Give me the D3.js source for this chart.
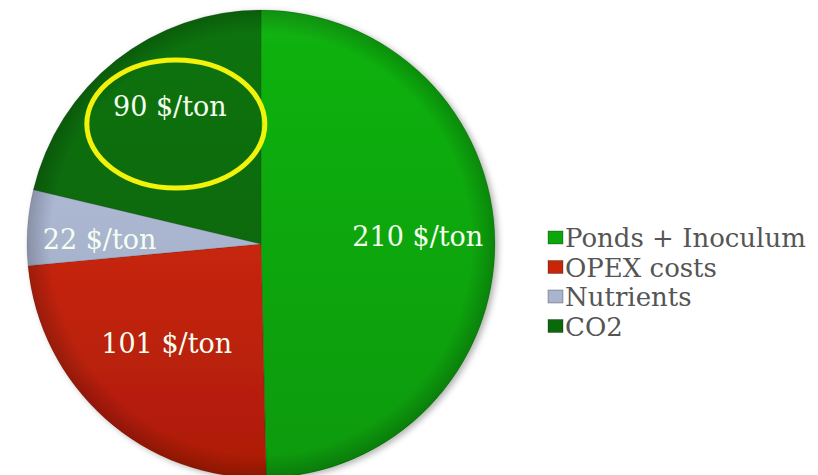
<!DOCTYPE html>
<html>
<head>
<meta charset="utf-8">
<script src="https://cdn.jsdelivr.net/npm/d3@7"></script>
<style>
    html, body { margin: 0; padding: 0; background: #fff; }
    #chart { width: 818px; height: 475px; }
    text { font-family: "DejaVu Serif", "Liberation Serif", serif; }
</style>
</head>
<body>
<div id="chart"></div>
<script>
(function () {
    "use strict";

    const categories = ["Ponds + Inoculum", "OPEX costs", "Nutrients", "CO2"];
    const costs = [210, 101, 22, 90];
    const labels = ["210 $/ton", "101 $/ton", "22 $/ton", "90 $/ton"];
    const colors = [
        ["#12b312", "#079a07"],
        ["#e0300e", "#ad1b06"],
        ["#bac4de", "#98a4c0"],
        ["#0b7410", "#075e08"]
    ];
    const highlighted = "CO2";

    // small label tweaks so they sit where the original deck put them
    const labelNudge = {
        "Ponds + Inoculum": [0, -6],
        "OPEX costs": [10, -18],
        "Nutrients": [-5, 7],
        "CO2": [6, -14]
    };

    function drawChart(selection) {
        const width = 818;
        const height = 475;
        const center = { x: 261, y: 244 };
        const radius = 234;

        const svg = selection.append("svg")
            .attr("width", width)
            .attr("height", height);

        const defs = svg.append("defs");

        colors.forEach((c, i) => {
            const grad = defs.append("linearGradient")
                .attr("id", "slice-" + i)
                .attr("gradientUnits", "userSpaceOnUse")
                .attr("x1", 0).attr("y1", -radius)
                .attr("x2", 0).attr("y2", radius);
            grad.append("stop").attr("offset", "0%").attr("stop-color", c[0]);
            grad.append("stop").attr("offset", "100%").attr("stop-color", c[1]);
        });

        const rim = defs.append("radialGradient")
            .attr("id", "rim")
            .attr("gradientUnits", "userSpaceOnUse")
            .attr("cx", 0).attr("cy", 0).attr("r", radius);
        rim.append("stop").attr("offset", "90%").attr("stop-color", "#000").attr("stop-opacity", 0);
        rim.append("stop").attr("offset", "100%").attr("stop-color", "#000").attr("stop-opacity", 0.2);

        const shadow = defs.append("filter")
            .attr("id", "shadow")
            .attr("x", "-10%").attr("y", "-10%")
            .attr("width", "120%").attr("height", "120%");
        shadow.append("feDropShadow")
            .attr("dx", 3).attr("dy", 2)
            .attr("stdDeviation", 3)
            .attr("flood-color", "#000")
            .attr("flood-opacity", 0.3);

        const canvas = svg.append("g")
            .attr("transform", `translate(${center.x},${center.y})`);

        const pie = d3.pie()
            .sort(null)
            .value(d => d);

        const arcs = pie(costs);

        const arc = d3.arc()
            .innerRadius(0)
            .outerRadius(radius);

        const labelArc = d3.arc()
            .innerRadius(radius * 0.67)
            .outerRadius(radius * 0.67);

        function labelPos(d) {
            const c = labelArc.centroid(d);
            const n = labelNudge[categories[d.index]];
            return [c[0] + n[0], c[1] + n[1]];
        }

        const slices = canvas.append("g")
            .attr("class", "slices")
            .attr("filter", "url(#shadow)");

        slices.selectAll("path")
            .data(arcs)
            .enter()
            .append("path")
            .attr("d", arc)
            .attr("fill", (d, i) => `url(#slice-${i})`)
            .attr("stroke", "rgba(0,0,0,0.12)")
            .attr("stroke-width", 1);

        canvas.append("circle")
            .attr("r", radius)
            .attr("fill", "url(#rim)");

        canvas.append("g")
            .attr("class", "labels")
            .selectAll("text")
            .data(arcs)
            .enter()
            .append("text")
            .attr("transform", d => `translate(${labelPos(d)})`)
            .attr("text-anchor", "middle")
            .attr("dy", "0.35em")
            .attr("fill", "#f4fff0")
            .style("font-size", "27px")
            .text((d, i) => labels[i]);

        const hi = arcs[categories.indexOf(highlighted)];
        const hiPos = labelPos(hi);
        canvas.append("ellipse")
            .attr("cx", hiPos[0] + 6)
            .attr("cy", hiPos[1] + 17)
            .attr("rx", 89)
            .attr("ry", 64)
            .attr("fill", "none")
            .attr("stroke", "#f2f20a")
            .attr("stroke-width", 5);

        const legend = svg.append("g")
            .attr("class", "legend")
            .attr("transform", "translate(548,238)");

        const rows = legend.selectAll(".row")
            .data(categories)
            .enter()
            .append("g")
            .attr("class", "row")
            .attr("transform", (d, i) => `translate(0,${i * 29.5})`);

        rows.append("rect")
            .attr("x", 0)
            .attr("y", -7)
            .attr("width", 15)
            .attr("height", 13)
            .attr("fill", (d, i) => `url(#slice-${i})`)
            .attr("stroke", "rgba(0,0,0,0.35)")
            .attr("stroke-width", 0.8);

        rows.append("text")
            .attr("x", 17)
            .attr("y", 9)
            .attr("fill", "#555")
            .style("font-size", "26px")
            .text(d => d);
    }

    d3.select("#chart")
        .call(drawChart);
}());
</script>
</body>
</html>
